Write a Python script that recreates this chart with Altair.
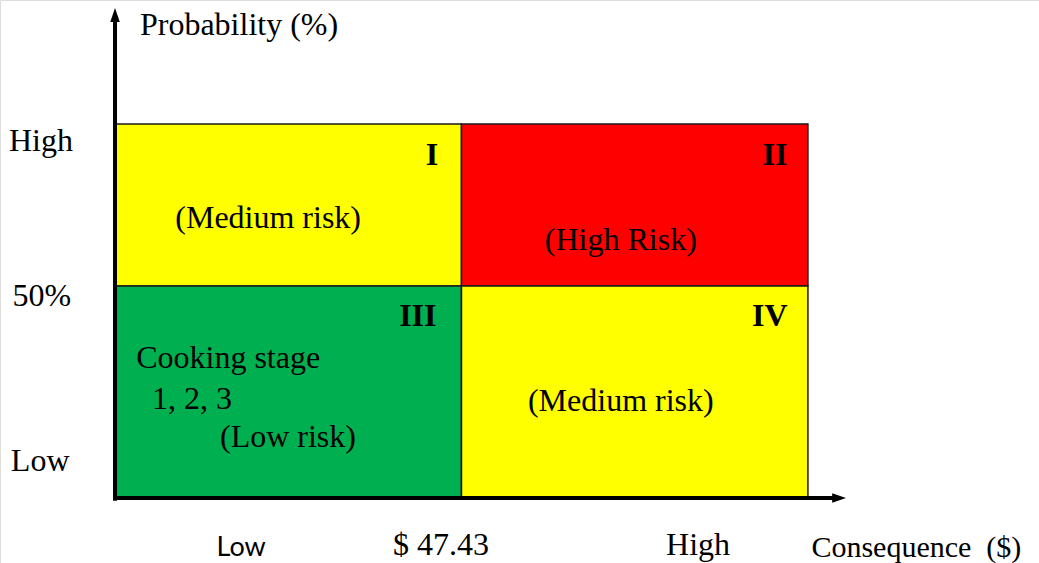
import altair as alt
import pandas as pd

# Quadrants in data units: consequence 0..2 (low/high), probability 0..2 (low/high, split at the 50% line)
p_mid = 1.131
q_x0 = [0, 1, 0, 1]
q_x1 = [1, 2, 1, 2]
q_y0 = [p_mid, p_mid, 0, 0]
q_y1 = [2, 2, p_mid, p_mid]
q_name = ["I", "II", "III", "IV"]
q_color = ["#FFFF00", "#FF0000", "#00B050", "#FFFF00"]

# Quadrant numerals
num_text = ["I", "II", "III", "IV"]
num_x = [0.915, 1.905, 0.874, 1.890]
num_y = [1.834, 1.834, 0.971, 0.971]

# Risk labels (centered)
risk_text = ["(Medium risk)", "(High Risk)", "(Medium risk)"]
risk_x = [0.442, 1.460, 1.460]
risk_y = [1.496, 1.378, 0.515]

# Cooking stage labels (left aligned)
cook_text = ["Cooking stage", "1, 2, 3", "(Low risk)"]
cook_x = [0.061, 0.107, 0.303]
cook_y = [0.745, 0.525, 0.322]

# Probability tick labels (left side)
ptick_text = ["High", "50%", "Low"]
ptick_x = [-0.214, -0.211, -0.216]
ptick_y = [1.909, 1.078, 0.193]

# Consequence tick labels (bottom)
ctick_text = ["$ 47.43", "High"]
ctick_x = [0.941, 1.683]
ctick_y = [-0.257, -0.257]
low_text = ["Low"]
low_x = [0.364]
low_y = [-0.273]

# Axis titles (left aligned)
ptitle_text = ["Probability (%)"]
ptitle_x = [0.072]
ptitle_y = [2.531]
ctitle_text = ["Consequence\u00a0 ($)"]
ctitle_x = [2.010]
ctitle_y = [-0.273]

# Axis arrows
yaxis_x = [0, 0]
yaxis_y = [-0.02, 2.58]
xaxis_x = [0, 2.08]
xaxis_y = [-0.005, -0.005]
arrow_x = [0.0, 2.085]
arrow_y = [2.575, -0.005]
arrow_angle = [0, 90]

W, H = 1039, 563
xs = alt.Scale(domain=[-0.332, 2.667], range=[0, W], nice=False, zero=False)
ys = alt.Scale(domain=[-0.354, 2.665], range=[H, 0], nice=False, zero=False)

quads = pd.DataFrame(dict(x0=q_x0, x1=q_x1, y0=q_y0, y1=q_y1, name=q_name, color=q_color))
rects = alt.Chart(quads).mark_rect(stroke="#1a1a1a", strokeWidth=1.5).encode(
    x=alt.X("x0:Q", scale=xs, axis=None),
    x2="x1:Q",
    y=alt.Y("y0:Q", scale=ys, axis=None),
    y2="y1:Q",
    fill=alt.Fill("color:N", scale=None),
)

serif = "Liberation Serif"

def text_layer(texts, xv, yv, size, align="center", bold=False, font=serif):
    df = pd.DataFrame(dict(t=texts, x=xv, y=yv))
    return alt.Chart(df).mark_text(
        font=font, fontSize=size, align=align, baseline="middle", color="black",
        fontWeight="bold" if bold else "normal",
    ).encode(
        x=alt.X("x:Q", scale=xs, axis=None),
        y=alt.Y("y:Q", scale=ys, axis=None),
        text="t:N",
    )

FS = 32
nums = text_layer(num_text, num_x, num_y, FS, bold=True)
risks = text_layer(risk_text, risk_x, risk_y, FS)
cook = text_layer(cook_text, cook_x, cook_y, FS, align="left")
pticks = text_layer(ptick_text, ptick_x, ptick_y, FS)
cticks = text_layer(ctick_text, ctick_x, ctick_y, FS)
lowt = text_layer(low_text, low_x, low_y, 27, font="Lato")
ptitle = text_layer(ptitle_text, ptitle_x, ptitle_y, FS, align="left")
ctitle = text_layer(ctitle_text, ctitle_x, ctitle_y, 30, align="left")

yax = alt.Chart(pd.DataFrame(dict(x=yaxis_x, y=yaxis_y))).mark_line(
    color="black", strokeWidth=4
).encode(x=alt.X("x:Q", scale=xs, axis=None), y=alt.Y("y:Q", scale=ys, axis=None))
xax = alt.Chart(pd.DataFrame(dict(x=xaxis_x, y=xaxis_y))).mark_line(
    color="black", strokeWidth=4
).encode(x=alt.X("x:Q", scale=xs, axis=None), y=alt.Y("y:Q", scale=ys, axis=None))

arrows = alt.Chart(pd.DataFrame(dict(x=arrow_x, y=arrow_y, a=arrow_angle))).mark_point(
    shape="M0,-1L0.55,0.6L-0.55,0.6Z", filled=True, color="black", opacity=1, size=300
).encode(
    x=alt.X("x:Q", scale=xs, axis=None),
    y=alt.Y("y:Q", scale=ys, axis=None),
    angle=alt.Angle("a:Q", scale=None),
)

chart = alt.layer(rects, yax, xax, arrows, nums, risks, cook, pticks, cticks, lowt, ptitle, ctitle).properties(
    width=W, height=H, padding=0, autosize=alt.AutoSizeParams(type="none")
).configure_view(stroke=None).configure(background="white")

chart.save("out.html", embed_options={"renderer": "svg", "actions": False})
